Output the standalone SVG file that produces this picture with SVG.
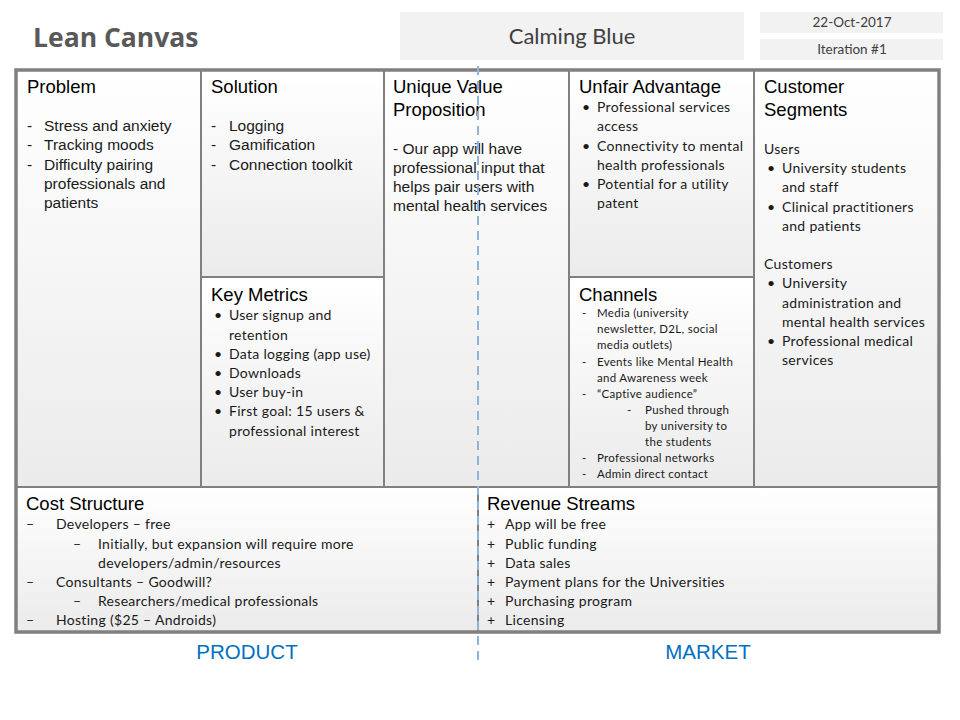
<svg xmlns="http://www.w3.org/2000/svg" width="960" height="720" viewBox="0 0 960 720">
<defs>
<linearGradient id="cellg" x1="0" y1="0" x2="0" y2="1">
<stop offset="0" stop-color="#ffffff"/>
<stop offset="1" stop-color="#ebebeb"/>
</linearGradient>
<style>
.cell{fill:url(#cellg);stroke:#808080;stroke-width:2}
.hd{font-family:"Liberation Sans",Arial,sans-serif;font-size:18.5px;fill:#000}
.ar{font-family:"Liberation Sans",Arial,sans-serif;font-size:15.5px;fill:#1a1a1a}
.cb{font-family:Lato,"Open Sans",sans-serif;font-size:14px;letter-spacing:0.3px;fill:#1a1a1a}
.cs{font-family:Lato,"Open Sans",sans-serif;font-size:11.5px;letter-spacing:0.3px;fill:#1a1a1a}
.blue{font-family:"Liberation Sans",Arial,sans-serif;font-size:20.5px;fill:#0070c0}
.meta{font-family:Lato,"Open Sans",sans-serif;font-size:13.5px;fill:#404040}
.top{fill:#f2f2f2}
</style>
</defs>
<rect width="960" height="720" fill="#ffffff"/>
<g id="header">
<text x="33" y="47" font-family="'Open Sans',sans-serif" font-weight="bold" font-size="26.5" fill="#595959">Lean Canvas</text>
<rect class="top" x="400" y="12" width="344" height="48"/>
<text x="572" y="44" text-anchor="middle" font-family="Lato,'Open Sans',sans-serif" font-size="22" fill="#404040">Calming Blue</text>
<rect class="top" x="760" y="12" width="183" height="21"/>
<text x="852" y="27" text-anchor="middle" class="meta">22-Oct-2017</text>
<rect class="top" x="760" y="39" width="183" height="21"/>
<text x="852" y="54" text-anchor="middle" class="meta">Iteration #1</text>
</g>
<g id="problem">
<rect class="cell" x="16" y="70" width="185" height="417"/>
<text class="hd" x="27" y="93">Problem</text>
<text class="ar" x="27" y="131">-</text><text class="ar" x="44" y="131">Stress and anxiety</text>
<text class="ar" x="27" y="150">-</text><text class="ar" x="44" y="150">Tracking moods</text>
<text class="ar" x="27" y="170">-</text><text class="ar" x="44" y="170">Difficulty pairing</text>
<text class="ar" x="44" y="189">professionals and</text>
<text class="ar" x="44" y="208">patients</text>
</g>
<g id="solution">
<rect class="cell" x="201" y="70" width="183" height="207"/>
<text class="hd" x="211" y="93">Solution</text>
<text class="ar" x="211" y="131">-</text><text class="ar" x="229" y="131">Logging</text>
<text class="ar" x="211" y="150">-</text><text class="ar" x="229" y="150">Gamification</text>
<text class="ar" x="211" y="170">-</text><text class="ar" x="229" y="170">Connection toolkit</text>
</g>
<g id="key-metrics">
<rect class="cell" x="201" y="277" width="183" height="210"/>
<text class="hd" x="211" y="301">Key Metrics</text>
<text class="cb" x="214" y="320">•</text><text class="cb" x="229" y="320">User signup and</text>
<text class="cb" x="229" y="340">retention</text>
<text class="cb" x="214" y="359">•</text><text class="cb" x="229" y="359">Data logging (app use)</text>
<text class="cb" x="214" y="378">•</text><text class="cb" x="229" y="378">Downloads</text>
<text class="cb" x="214" y="397">•</text><text class="cb" x="229" y="397">User buy-in</text>
<text class="cb" x="214" y="416">•</text><text class="cb" x="229" y="416">First goal: 15 users &amp;</text>
<text class="cb" x="229" y="436">professional interest</text>
</g>
<g id="uvp">
<rect class="cell" x="384" y="70" width="185" height="417"/>
<text class="hd" x="393" y="93">Unique Value</text>
<text class="hd" x="393" y="116">Proposition</text>
<text class="ar" x="393" y="154">- Our app will have</text>
<text class="ar" x="393" y="173">professional input that</text>
<text class="ar" x="393" y="192">helps pair users with</text>
<text class="ar" x="393" y="211">mental health  services</text>
</g>
<g id="unfair-advantage">
<rect class="cell" x="569" y="70" width="185" height="207"/>
<text class="hd" x="579" y="93">Unfair Advantage</text>
<text class="cb" x="582" y="112">•</text><text class="cb" x="597" y="112">Professional services</text>
<text class="cb" x="597" y="131">access</text>
<text class="cb" x="582" y="151">•</text><text class="cb" x="597" y="151">Connectivity to mental</text>
<text class="cb" x="597" y="170">health professionals</text>
<text class="cb" x="582" y="189">•</text><text class="cb" x="597" y="189">Potential for a utility</text>
<text class="cb" x="597" y="208">patent</text>
</g>
<g id="channels">
<rect class="cell" x="569" y="277" width="185" height="210"/>
<text class="hd" x="579" y="301">Channels</text>
<text class="cs" x="582" y="317">-</text><text class="cs" x="597" y="317">Media (university</text>
<text class="cs" x="597" y="333">newsletter, D2L, social</text>
<text class="cs" x="597" y="349">media outlets)</text>
<text class="cs" x="582" y="366">-</text><text class="cs" x="597" y="366">Events like Mental Health</text>
<text class="cs" x="597" y="382">and Awareness week</text>
<text class="cs" x="582" y="398">-</text><text class="cs" x="597" y="398">“Captive audience”</text>
<text class="cs" x="627" y="414">-</text><text class="cs" x="645" y="414">Pushed through</text>
<text class="cs" x="645" y="430">by university to</text>
<text class="cs" x="645" y="446">the students</text>
<text class="cs" x="582" y="462">-</text><text class="cs" x="597" y="462">Professional networks</text>
<text class="cs" x="582" y="478">-</text><text class="cs" x="597" y="478">Admin direct contact</text>
</g>
<g id="customer-segments">
<rect class="cell" x="754" y="70" width="185" height="417"/>
<text class="hd" x="764" y="93">Customer</text>
<text class="hd" x="764" y="116">Segments</text>
<text class="cb" x="764" y="154">Users</text>
<text class="cb" x="767" y="173">•</text><text class="cb" x="782" y="173">University students</text>
<text class="cb" x="782" y="192">and staff</text>
<text class="cb" x="767" y="212">•</text><text class="cb" x="782" y="212">Clinical practitioners</text>
<text class="cb" x="782" y="231">and patients</text>
<text class="cb" x="764" y="269">Customers</text>
<text class="cb" x="767" y="288">•</text><text class="cb" x="782" y="288">University</text>
<text class="cb" x="782" y="308">administration and</text>
<text class="cb" x="782" y="327">mental health services</text>
<text class="cb" x="767" y="346">•</text><text class="cb" x="782" y="346">Professional medical</text>
<text class="cb" x="782" y="365">services</text>
</g>
<g id="cost-structure">
<rect class="cell" x="16" y="487" width="462" height="145"/>
<text class="hd" x="26" y="510">Cost Structure</text>
<text class="cb" x="26" y="529">–</text><text class="cb" x="56" y="529">Developers – free</text>
<text class="cb" x="73" y="549">–</text><text class="cb" x="98" y="549">Initially, but expansion will require more</text>
<text class="cb" x="98" y="568">developers/admin/resources</text>
<text class="cb" x="26" y="587">–</text><text class="cb" x="56" y="587">Consultants – Goodwill?</text>
<text class="cb" x="73" y="606">–</text><text class="cb" x="98" y="606">Researchers/medical professionals</text>
<text class="cb" x="26" y="625">–</text><text class="cb" x="56" y="625">Hosting ($25 – Androids)</text>
</g>
<g id="revenue-streams">
<rect class="cell" x="478" y="487" width="461" height="145"/>
<text class="hd" x="487" y="510">Revenue Streams</text>
<text class="cb" x="487" y="529">+</text><text class="cb" x="505" y="529">App  will be free</text>
<text class="cb" x="487" y="549">+</text><text class="cb" x="505" y="549">Public funding</text>
<text class="cb" x="487" y="568">+</text><text class="cb" x="505" y="568">Data sales</text>
<text class="cb" x="487" y="587">+</text><text class="cb" x="505" y="587">Payment  plans for the Universities</text>
<text class="cb" x="487" y="606">+</text><text class="cb" x="505" y="606">Purchasing program</text>
<text class="cb" x="487" y="625">+</text><text class="cb" x="505" y="625">Licensing</text>
</g>
<g id="frame">
<rect x="16" y="70" width="923" height="562" fill="none" stroke="#808080" stroke-width="3.5"/>
</g>
<g id="connectors">
<line x1="478" y1="66" x2="478" y2="664" stroke="#8fb4d8" stroke-width="2" stroke-dasharray="9,6"/>
</g>
<g id="labels">
<text class="blue" x="247" y="659" text-anchor="middle">PRODUCT</text>
<text class="blue" x="708" y="659" text-anchor="middle">MARKET</text>
</g>
</svg>
